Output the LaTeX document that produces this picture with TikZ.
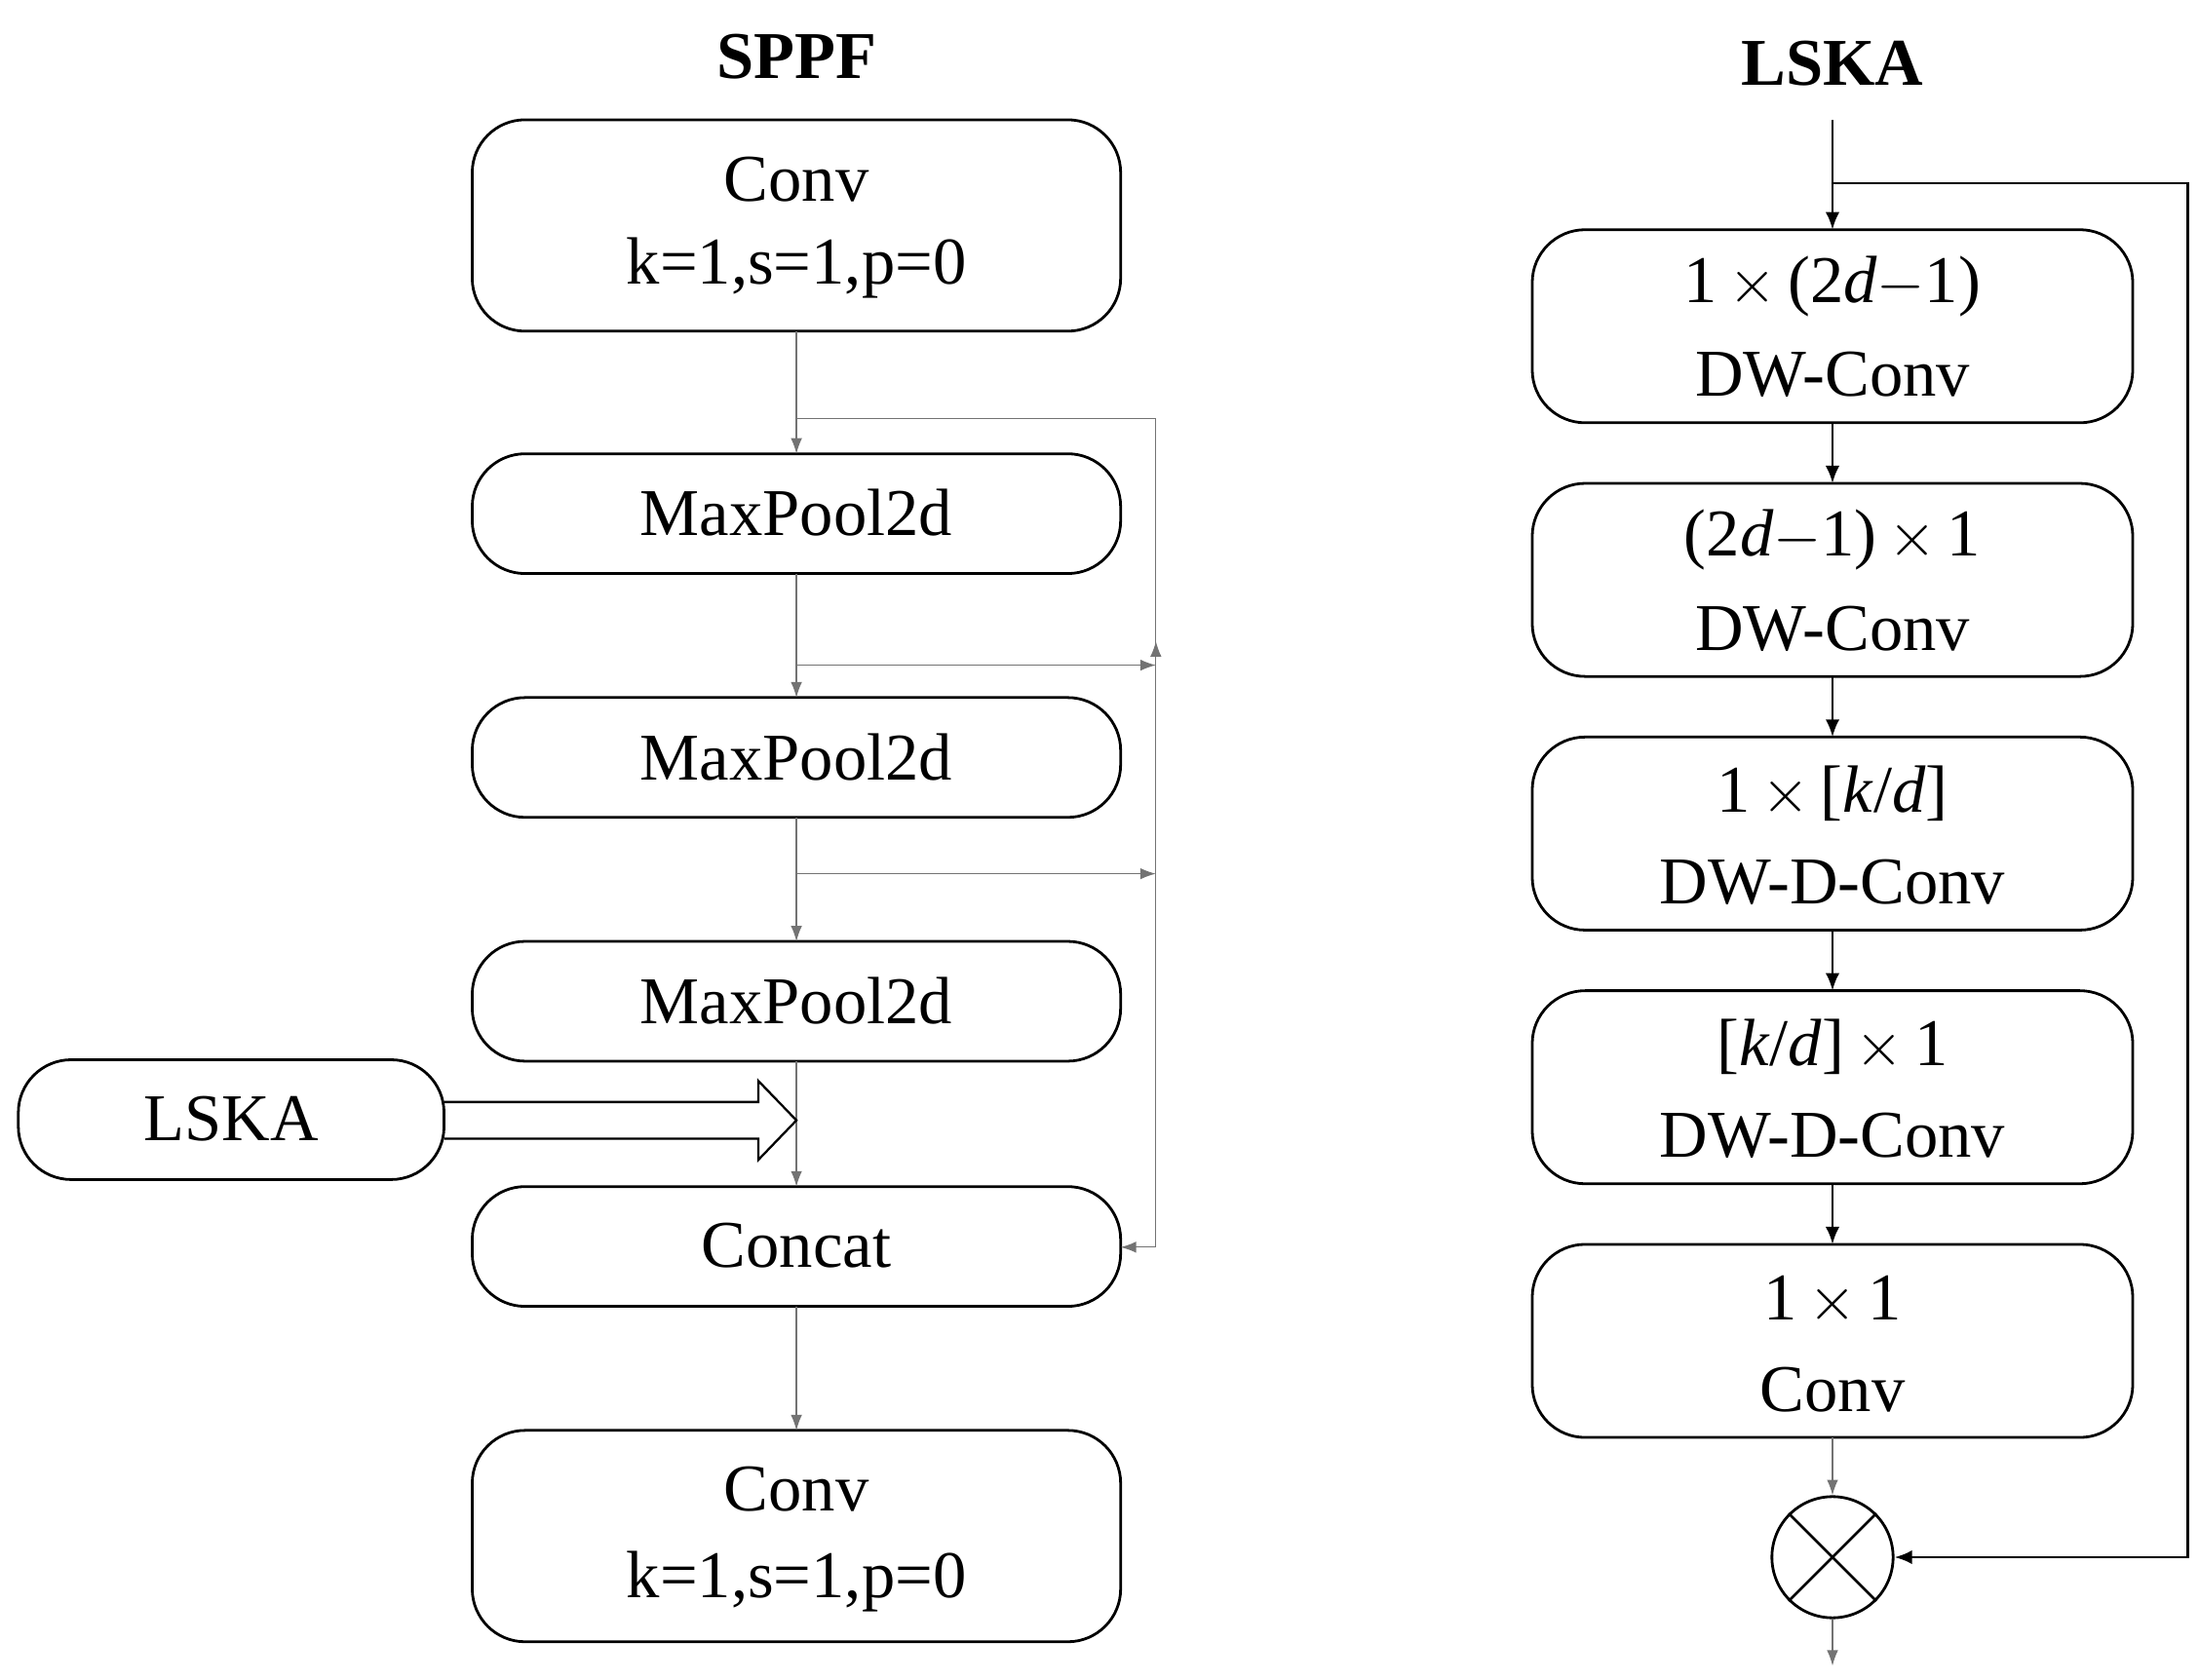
\documentclass[tikz,border=0pt]{standalone}
\usepackage{fontspec}
\setmainfont{Liberation Serif}
\usetikzlibrary{arrows.meta}
\tikzset{
  blk/.style={draw, line width=1.1pt, rounded corners=0.75cm, inner sep=0pt},
  txt/.style={font=\fontsize{27}{32}\selectfont},
  ttl/.style={font=\fontsize{27}{32}\selectfont\bfseries},
  thin/.style={draw=black!55, line width=0.5pt, -{Latex[length=0.22cm,width=0.16cm]}},
  thk/.style={line width=1.1pt, -{Latex[length=0.25cm,width=0.2cm]}}
}
\begin{document}
\begin{tikzpicture}[x=0.02cm,y=-0.02cm]
\useasboundingbox (0,0) rectangle (1560,1192);

% SPPF side
\node[ttl] (t1) at (565,40) {SPPF};
\draw[blk] (335,85) rectangle (795,235);
\node[txt] (c1a) at (565,127) {Conv};
\node[txt] (c1b) at (565,190) {k=1,s=1,p=0};
\draw[blk] (335,322) rectangle (795,407);
\node[txt] (m1) at (565,364) {MaxPool2d};
\draw[blk] (335,495) rectangle (795,580);
\node[txt] (m2) at (565,537) {MaxPool2d};
\draw[blk] (335,668) rectangle (795,753);
\node[txt] (m3) at (565,710) {MaxPool2d};
\draw[blk] (335,842) rectangle (795,927);
\node[txt] (cc) at (565,884) {Concat};
\draw[blk] (335,1015) rectangle (795,1165);
\node[txt] (c2a) at (565,1057) {Conv};
\node[txt] (c2b) at (565,1122) {k=1,s=1,p=0};
\draw[blk] (13,752) rectangle (315,837);
\node[txt] (ls) at (164,794) {LSKA};

\coordinate (p1) at (565,235); \coordinate (q1) at (565,322);
\coordinate (p2) at (565,407); \coordinate (q2) at (565,495);
\coordinate (p3) at (565,580); \coordinate (q3) at (565,668);
\coordinate (p4) at (565,753); \coordinate (q4) at (565,842);
\coordinate (p5) at (565,927); \coordinate (q5) at (565,1015);
\foreach \a/\b in {p1/q1,p2/q2,p3/q3,p4/q4,p5/q5} \draw[thin] (\a) -- (\b);
\coordinate (r0) at (565,297); \coordinate (r1) at (820,297);
\coordinate (r2) at (820,885); \coordinate (ce) at (795,885);
\draw[thin] (r0) -- (r1) -- (r2) -- (ce);
\draw[thin] (565,472) -- (820,472);
\draw[thin] (820,472) -- (820,455);
\draw[thin] (565,620) -- (820,620);
% hollow arrow
\draw[line width=0.9pt] (315,782) -- (538,782) -- (538,767) -- (565,795) -- (538,823) -- (538,808) -- (315,808);

% LSKA side
\node[ttl] (t2) at (1300,45) {LSKA};
\foreach \i/\y/\la/\lb in {
  1/163/{1\,$\times$\,(2\textit{d}$-$1)}/{DW-Conv},
  2/343/{(2\textit{d}$-$1)\,$\times$\,1}/{DW-Conv},
  3/523/{1\,$\times$\,[\textit{k}/\textit{d}]}/{DW-D-Conv},
  4/703/{[\textit{k}/\textit{d}]\,$\times$\,1}/{DW-D-Conv},
  5/883/{1\,$\times$\,1}/{Conv}} {
  \draw[blk] (1087,\y) rectangle (1513,\y+137);
  \node[txt] (la\i) at (1300,\y+40) {\la};
  \node[txt] (lb\i) at (1300,\y+103) {\lb};
  \coordinate (bt\i) at (1300,\y);
  \coordinate (bb\i) at (1300,\y+137);
}
\foreach \a/\b in {1/2,2/3,3/4,4/5} \draw[thk] (bb\a) -- (bt\b);
\coordinate (in) at (1300,85); \coordinate (sp) at (1300,130);
\coordinate (s1) at (1552,130); \coordinate (s2) at (1552,1105);
\draw[thk] (in) -- (bt1);
\node[draw, circle, line width=1.1pt, minimum size=1.72cm, inner sep=0pt] (mul) at (1300,1105) {};
\draw[line width=1.1pt] (mul.north west) -- (mul.south east) (mul.north east) -- (mul.south west);
\draw[thk] (sp) -- (s1) -- (s2) -- (mul.east);
\draw[thin] (bb5) -- (mul.north);
\coordinate (out) at (1300,1182);
\draw[thin] (mul.south) -- (out);
\end{tikzpicture}
\end{document}
